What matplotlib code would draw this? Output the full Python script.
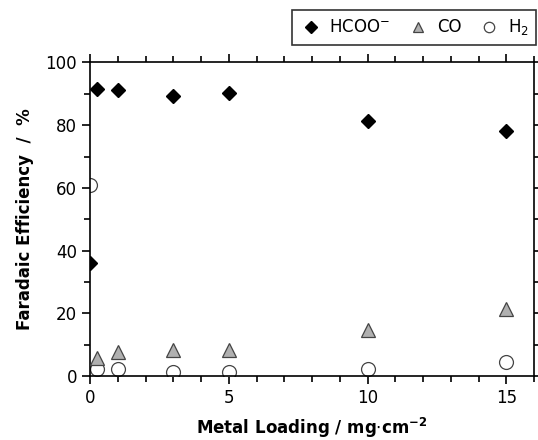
import matplotlib
matplotlib.use("Agg")
import matplotlib.pyplot as plt
from matplotlib.ticker import MultipleLocator

# data
x_hcoo = [0, 0.25, 1, 3, 5, 10, 15]
fe_hcoo = [36, 91.5, 91.1, 89.3, 90.2, 81.4, 78.2]

x_co = [0.25, 1, 3, 5, 10, 15]
fe_co = [5.6, 7.8, 8.3, 8.3, 14.8, 21.3]

x_h2 = [0, 0.25, 1, 3, 5, 10, 15]
fe_h2 = [61, 2.1, 2.2, 1.2, 1.2, 2.1, 4.6]

plt.rcParams['font.family'] = ['DejaVu Sans']

fig = plt.figure(figsize=(5.38, 4.4), dpi=100)
ax = fig.add_axes([0.1677, 0.1455, 0.8249, 0.7125])

ax.plot(x_hcoo, fe_hcoo, 'D', ms=7.5, color='black', markeredgecolor='black',
        label='HCOO$^{\\mathsf{-}}$', zorder=3)
ax.plot(x_co, fe_co, '^', ms=10, color='#b0b0b0', markeredgecolor='#444444',
        markeredgewidth=0.9, label='CO', zorder=3)
ax.plot(x_h2, fe_h2, 'o', ms=10, markerfacecolor='white', markeredgecolor='#444444',
        markeredgewidth=0.9, label='H$_2$', zorder=2)

ax.set_xlim(0, 16)
ax.set_ylim(0, 100)
ax.xaxis.set_major_locator(MultipleLocator(5))
ax.xaxis.set_minor_locator(MultipleLocator(1))
ax.yaxis.set_major_locator(MultipleLocator(20))
ax.yaxis.set_minor_locator(MultipleLocator(10))
ax.tick_params(which='both', direction='out', top=True, right=True,
               labelsize=12, width=1.2)
ax.tick_params(which='major', length=6)
ax.tick_params(which='minor', length=4)
for s in ax.spines.values():
    s.set_linewidth(1.2)

ax.set_xlabel('Metal Loading / mg$\\cdot$cm$^{\\mathbf{-2}}$', fontsize=12,
              fontweight='bold', labelpad=6)
ax.set_ylabel('Faradaic Efficiency  /  %', fontsize=12, fontweight='bold', labelpad=8)

leg = ax.legend(loc='lower right', bbox_to_anchor=(1.005, 1.056), ncol=3,
                frameon=True, fancybox=False, fontsize=12, handletextpad=0.4,
                columnspacing=1.0, borderpad=0.45, handlelength=1.4,
                markerscale=0.75, borderaxespad=0)
leg.get_frame().set_edgecolor('black')
leg.get_frame().set_linewidth(1.2)

fig.savefig('out.png', dpi=100)
